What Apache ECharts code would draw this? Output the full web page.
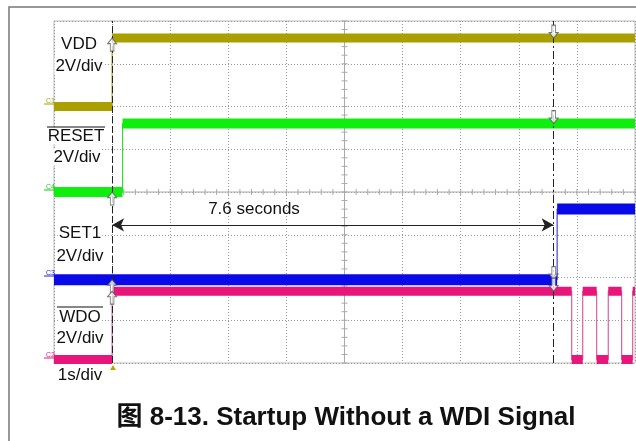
<!DOCTYPE html>
<html>
<head>
<meta charset="utf-8">
<script src="https://cdn.jsdelivr.net/npm/echarts@6/dist/echarts.min.js"></script>
<style>
html, body { margin: 0; padding: 0; background: #fff; }
#scope { width: 636px; height: 441px; }
</style>
</head>
<body>
<div id="scope"></div>
<script>
// scope: 1 s/div, 2 V/div, trigger at t = 0
var cursorTime = 7.6;

// each trace = edge times (s) + level (V) before, between and after the edges
var vddEdges = [0];
var vddVolts = [0, 3.2];
var resetEdges = [0.18];
var resetVolts = [0, 3.2];
var set1Edges = [7.66];
var set1Volts = [0, 3.3];
var wdoEdges = [0, 7.91, 8.10, 8.34, 8.54, 8.77, 8.96];
var wdoVolts = [0, 3.2, 0, 3.2, 0, 3.2, 0, 3.2];

var T0 = -1, T1 = 9;
var FONT = '"Liberation Sans", Arial, sans-serif';

// ground position of each channel in divisions (from bottom), colours, band width
var channels = [
  { name: "VDD", edges: vddEdges, volts: vddVolts, ground: 6.0, color: "#a9a000", edge: "#b0a820", band: 9 },
  { name: "RESET", edges: resetEdges, volts: resetVolts, ground: 4.0, color: "#10ee10", edge: "#30dd30", band: 10 },
  { name: "SET1", edges: set1Edges, volts: set1Volts, ground: 1.95, color: "#0a0ae8", edge: "#4040e0", band: 11 },
  { name: "WDO", edges: wdoEdges, volts: wdoVolts, ground: 0.08, color: "#e8157a", edge: "#d860a0", band: 9 }
];

function toDiv(ch, v) { return ch.ground + v / 2; }

function stepPoints(ch) {
  var pts = [[T0, toDiv(ch, ch.volts[0])]];
  ch.edges.forEach(function (e, i) {
    pts.push([e, toDiv(ch, ch.volts[i])]);
    pts.push([e, toDiv(ch, ch.volts[i + 1])]);
  });
  pts.push([T1, toDiv(ch, ch.volts[ch.volts.length - 1])]);
  return pts;
}

function bandPoints(ch) {
  var pts = [];
  ch.volts.forEach(function (v, i) {
    var a = i === 0 ? T0 : ch.edges[i - 1];
    var b = i === ch.edges.length ? T1 : ch.edges[i];
    pts.push([a, toDiv(ch, v)], [b, toDiv(ch, v)], [b, "-"]);
  });
  return pts;
}

function levelAt(ch, t) {
  var k = 0;
  ch.edges.forEach(function (e) { if (t >= e) k++; });
  return toDiv(ch, ch.volts[k]);
}

var series = [];
channels.forEach(function (ch) {
  series.push({
    type: "line", data: stepPoints(ch), symbol: "none", z: 3,
    lineStyle: { color: ch.edge, width: 1.2 }
  });
});
channels.forEach(function (ch) {
  series.push({
    type: "line", data: bandPoints(ch), symbol: "none", z: 4, connectNulls: false,
    lineStyle: { color: ch.color, width: ch.band, cap: "butt" }
  });
});

// centre graticule with minor ticks
series.push({
  type: "custom", silent: true, z: 2, data: [0],
  renderItem: function (params, api) {
    var kids = [];
    var st = { stroke: "#aaa", lineWidth: 1 };
    var a = api.coord([T0, 4]), b = api.coord([T1, 4]);
    kids.push({ type: "line", shape: { x1: a[0], y1: a[1], x2: b[0], y2: b[1] }, style: st });
    a = api.coord([4, 0]); b = api.coord([4, 8]);
    kids.push({ type: "line", shape: { x1: a[0], y1: a[1], x2: b[0], y2: b[1] }, style: st });
    for (var i = 0; i <= 50; i++) {
      var p = api.coord([T0 + i * 0.2, 4]);
      kids.push({ type: "line", shape: { x1: p[0], y1: p[1] - 3, x2: p[0], y2: p[1] + 3 }, style: st });
    }
    for (var j = 0; j <= 40; j++) {
      var q = api.coord([4, j * 0.2]);
      kids.push({ type: "line", shape: { x1: q[0] - 3, y1: q[1], x2: q[0] + 3, y2: q[1] }, style: st });
    }
    return { type: "group", children: kids };
  }
});

var upArrow = "path://M5,0 L10,6 L7,6 L7,14 L3,14 L3,6 L0,6 Z";
var downArrow = "path://M3,0 L7,0 L7,8 L10,8 L5,14 L0,8 L3,8 Z";

// cursor markers at trigger and at second cursor, plus cursor lines
series.push({
  type: "scatter", z: 6, symbol: upArrow, symbolSize: [9, 13], symbolOffset: [0, 6.5],
  itemStyle: { color: "#fff", borderColor: "#555", borderWidth: 1 },
  data: channels.map(function (ch) { return [0, levelAt(ch, 0)]; }),
  markLine: {
    silent: true, symbol: "none", label: { show: false },
    data: [
      { xAxis: 0, lineStyle: { color: "#222", width: 1, type: [7, 3] } },
      { xAxis: cursorTime, lineStyle: { color: "#222", width: 1, type: [8, 3, 2, 3] } }
    ]
  }
});
series.push({
  type: "scatter", z: 6, symbol: downArrow, symbolSize: [9, 13], symbolOffset: [0, -6.5],
  itemStyle: { color: "#fff", borderColor: "#555", borderWidth: 1 },
  data: channels.map(function (ch) { return [cursorTime, levelAt(ch, cursorTime - 0.001)]; }),
  markLine: {
    silent: true, symbol: ["arrow", "arrow"], symbolSize: [10, 12], label: { show: false },
    lineStyle: { color: "#222", width: 1.2, type: "solid" },
    data: [[{ coord: [0, 3.23] }, { coord: [cursorTime, 3.23] }]]
  }
});

function label(text, x, y) {
  return {
    type: "text", x: x, y: y, z: 10,
    style: { text: text, font: "17px " + FONT, fill: "#111", align: "center", verticalAlign: "middle",
      backgroundColor: "#fff", padding: [0, 1] }
  };
}
function bar(x1, x2, y) {
  return { type: "line", z: 11, shape: { x1: x1, y1: y, x2: x2, y2: y }, style: { stroke: "#111", lineWidth: 1.2 } };
}
function tag(text, y, color) {
  return [
    { type: "text", x: 46, y: y - 3, z: 10, style: { text: text, font: "7px " + FONT, fill: color, align: "left", verticalAlign: "middle" } },
    { type: "line", z: 10, shape: { x1: 44, y1: y, x2: 54, y2: y }, style: { stroke: color, lineWidth: 1 } }
  ];
}

var graphics = [
  { type: "rect", shape: { x: 9, y: 7, width: 700, height: 500 }, style: { fill: null, stroke: "#777", lineWidth: 1.5 } },
  label("VDD", 79, 44), label("2V/div", 79, 66),
  label("RESET", 76, 136), label("2V/div", 77, 157), bar(47, 105, 127),
  label("SET1", 80, 233), label("2V/div", 80, 256),
  label("WDO", 80, 317), label("2V/div", 80, 338), bar(57, 103, 307),
  label("1s/div", 80, 375),
  { type: "text", x: 254, y: 209, z: 10,
    style: { text: cursorTime.toFixed(1) + " seconds", font: "17px " + FONT, fill: "#111", align: "center", verticalAlign: "middle" } },
  { type: "polygon", z: 10, shape: { points: [[113, 365], [116, 370], [110, 370]] }, style: { fill: "#b8a800" } },
  { type: "text", x: 346, y: 418, z: 10,
    style: { text: "图 8-13. Startup Without a WDI Signal", font: 'bold 26px "Liberation Sans", "Noto Sans CJK SC", sans-serif',
      fill: "#111", align: "center", verticalAlign: "middle" } }
].concat(tag("C1", 104, "#a9a000"), tag("C4", 190, "#10cc10"), tag("C3", 276, "#2020e0"), tag("C2", 358, "#e8157a"));

var scope = echarts.init(document.getElementById("scope"));
scope.setOption({
  animation: false,
  backgroundColor: "#fff",
  grid: { left: 54, top: 21, width: 581, height: 342, show: true, borderColor: "#bbb", borderWidth: 1 },
  xAxis: {
    type: "value", min: T0, max: T1, interval: 1,
    axisLine: { show: false }, axisTick: { show: false }, axisLabel: { show: false },
    splitLine: { show: true, lineStyle: { color: "#999", width: 1, type: [1, 2] } }
  },
  yAxis: {
    type: "value", min: 0, max: 8, interval: 1,
    axisLine: { show: false }, axisTick: { show: false }, axisLabel: { show: false },
    splitLine: { show: true, lineStyle: { color: "#999", width: 1, type: [1, 2] } }
  },
  series: series,
  graphic: graphics
});
</script>
</body>
</html>
